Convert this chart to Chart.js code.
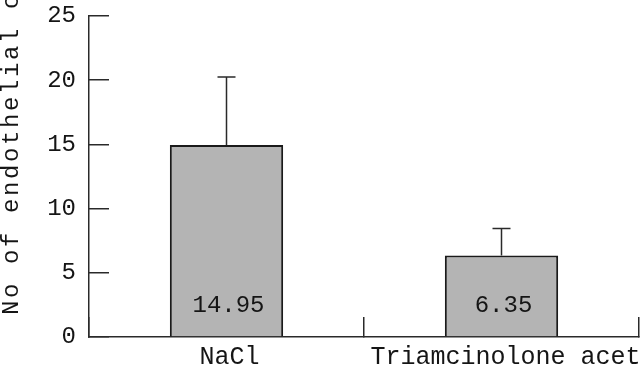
<!DOCTYPE html>
<html><head><meta charset="utf-8">
<script src="https://cdn.jsdelivr.net/npm/chart.js@4"></script>
<style>html,body{margin:0;padding:0;background:#fff;}#wrap{width:640px;height:367px;position:relative;}</style>
</head><body><div id="wrap"><canvas id="c" width="640" height="367"></canvas></div>
<script>
const categories = ['NaCl', 'Triamcinolone acetonide'];
const meanValues = [14.95, 6.35];
const sdValues = [5.3, 2.1];
const valueLabels = ['14.95', '6.35'];
const yTickValues = [0, 5, 10, 15, 20, 25];
const yAxisTitle = 'No of endothelial cells';

const FONT = "'Liberation Mono', 'Courier New', monospace";
const INK = '#151515';
const LINE = '#2a2a2a';

const extras = {
  id: 'extras',
  afterDatasetsDraw(chart) {
    const { ctx, scales: { x, y } } = chart;
    const meta = chart.getDatasetMeta(0);
    ctx.save();
    ctx.strokeStyle = LINE; ctx.lineWidth = 1.5;
    meta.data.forEach((bar, i) => {
      const top = y.getPixelForValue(meanValues[i] + sdValues[i]);
      const base = y.getPixelForValue(meanValues[i]);
      ctx.beginPath();
      ctx.moveTo(bar.x, base); ctx.lineTo(bar.x, top);
      ctx.moveTo(bar.x - 9, top); ctx.lineTo(bar.x + 9, top);
      ctx.stroke();
    });
    ctx.fillStyle = INK; ctx.font = '24px ' + FONT;
    ctx.textAlign = 'center'; ctx.textBaseline = 'alphabetic';
    meta.data.forEach((bar, i) => {
      ctx.fillText(valueLabels[i], bar.x + 2, y.getPixelForValue(0) - 25);
    });
    // category labels
    ctx.font = '25px ' + FONT;
    categories.forEach((lab, i) => {
      const cx = x.getPixelForValue(i);
      if (i === 0) {
        ctx.textAlign = 'center';
        ctx.fillText(lab, cx + 3, x.top + 27);
      } else {
        ctx.textAlign = 'left';
        ctx.fillText(lab, cx - 131, x.top + 27);
      }
    });
    ctx.restore();
    ctx.save();
    ctx.fillStyle = INK; ctx.font = '24px ' + FONT;
    ctx.letterSpacing = '2.6px';
    ctx.translate(18, y.bottom - 22);
    ctx.rotate(-Math.PI / 2);
    ctx.textAlign = 'left'; ctx.textBaseline = 'alphabetic';
    ctx.fillText(yAxisTitle, 0, 0);
    ctx.restore();
  }
};

new Chart(document.getElementById('c'), {
  type: 'bar',
  data: {
    labels: categories,
    datasets: [{
      data: meanValues,
      backgroundColor: '#b4b4b4',
      borderColor: '#1a1a1a',
      borderWidth: 2,
      barPercentage: 0.412,
      categoryPercentage: 1
    }]
  },
  options: {
    responsive: false,
    devicePixelRatio: 1,
    animation: false,
    layout: { padding: { left: 47, top: 0, right: 1, bottom: 0 } },
    plugins: { legend: { display: false }, tooltip: { enabled: false } },
    scales: {
      x: {
        offset: true,
        grid: { display: true, offset: true, drawOnChartArea: false, tickLength: -20, color: LINE, lineWidth: 1.5 },
        border: { display: true, color: LINE, width: 1.5 },
        ticks: { display: false, autoSkip: false },
        afterFit(s) { s.paddingLeft = 0; s.paddingRight = 0; s.height = 30; }
      },
      y: {
        min: yTickValues[0],
        max: yTickValues[yTickValues.length - 1],
        grid: { drawOnChartArea: false, tickLength: -20, color: LINE, lineWidth: 1.5 },
        border: { display: true, color: LINE, width: 1.5 },
        ticks: { font: { family: FONT, size: 24 }, color: INK, padding: 33 },
        afterBuildTicks(s) { s.ticks = yTickValues.map(v => ({ value: v })); },
        afterFit(s) { s.width = 42; s.paddingTop = 16; s.paddingBottom = 0; }
      }
    }
  },
  plugins: [extras]
});
</script></body></html>
